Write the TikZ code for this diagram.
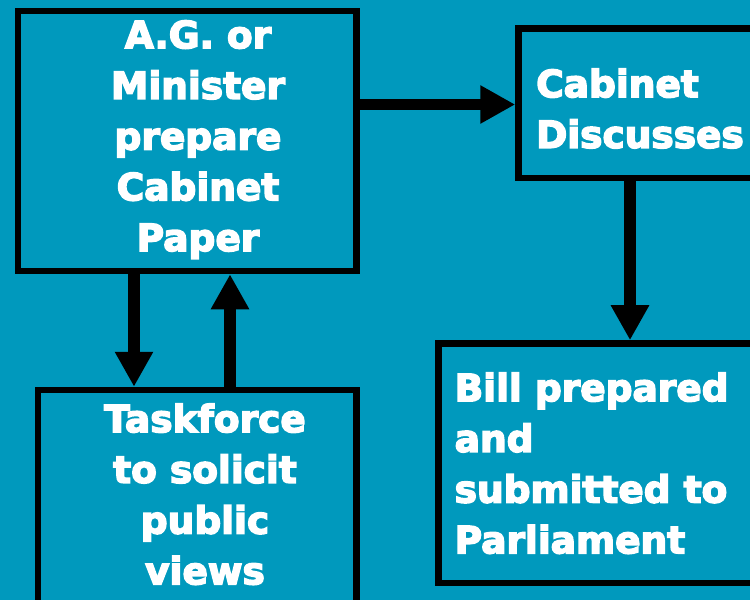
\documentclass[tikz,border=0pt]{standalone}
\usepackage{fontspec}
\setsansfont{DejaVu Sans}[BoldFeatures={FakeBold=4}]
\usetikzlibrary{arrows.meta}
\definecolor{bgteal}{RGB}{0,153,189}

\begin{document}
\begin{tikzpicture}[x=1bp, y=-1bp,
        box/.style={rectangle, draw=black, line width=6.5bp, inner sep=0pt},
        txt/.style={text=white, inner sep=0pt, font=\sffamily\bfseries\fontsize{37.5bp}{50.7bp}\selectfont},
        flow/.style={draw=black, line width=11.5bp, -{Triangle[length=35bp,width=36bp]}}]
            \useasboundingbox (0,0) rectangle (750,600);
            \clip (0,0) rectangle (750,600);
            \fill[bgteal] (0,0) rectangle (750,600);

            % boxes
            \node[box, minimum width=338.5bp, minimum height=260bp] (AG) at (187.25,141) {};
            \node[box, minimum width=301.5bp, minimum height=149.5bp] (CD) at (669.25,103.25) {};
            \node[box, minimum width=318.5bp, minimum height=270bp] (TF) at (197.25,525) {};
            \node[box, minimum width=381.5bp, minimum height=239.5bp] (BP) at (629.25,463.25) {};

            % texts
            \node[txt, align=center, anchor=north] (AGt) at (198,20.2) {A.G. or\\Minister\\prepare\\Cabinet\\Paper};
            \node[txt, align=left, anchor=north west] (CDt) at (536,68.5) {Cabinet\\Discusses};
            \node[txt, align=center, anchor=north] (TFt) at (205,403.5) {Taskforce\\to solicit\\public\\views};
            \node[txt, align=left, anchor=north west] (BPt) at (454.5,372.5) {Bill prepared\\and\\submitted to\\Parliament};

            % arrows
            \coordinate (rowY) at (0,104.5);
            \coordinate (dnX) at (134,0);
            \coordinate (upX) at (230,0);
            \coordinate (billX) at (630,0);
            \draw[flow] (AG.east |- rowY) -- (CD.west |- rowY);
            \draw[flow] (AG.south -| dnX) -- (TF.north -| dnX);
            \draw[flow] (TF.north -| upX) -- (AG.south -| upX);
            \draw[flow] (CD.south -| billX) -- (BP.north -| billX);
        \end{tikzpicture}
\end{document}
